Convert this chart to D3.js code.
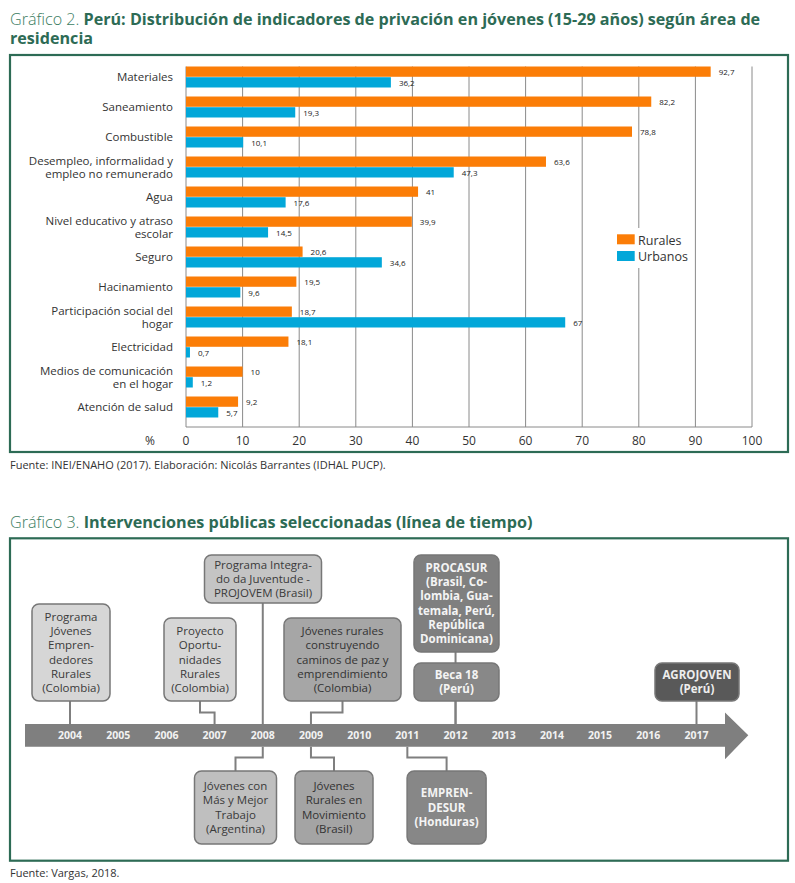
<!DOCTYPE html>
<html><head><meta charset="utf-8">
<script src="https://cdn.jsdelivr.net/npm/d3@7"></script>
<style>body{margin:0;background:#fff}svg{display:block;font-family:"Open Sans",sans-serif}</style>
</head><body><svg id="c" width="795" height="883"></svg>
<script>
// ---------- DATA ----------
const categories = ["Materiales","Saneamiento","Combustible","Desempleo, informalidad y\nempleo no remunerado","Agua","Nivel educativo y atraso\nescolar","Seguro","Hacinamiento","Participación social del\nhogar","Electricidad","Medios de comunicación\nen el hogar","Atención de salud"];
const series = ["Rurales","Urbanos"];
const rurales = [92.7,82.2,78.8,63.6,41,39.9,20.6,19.5,18.7,18.1,10,9.2];
const urbanos = [36.2,19.3,10.1,47.3,17.6,14.5,34.6,9.6,67,0.7,1.2,5.7];
const xTicks = [0,10,20,30,40,50,60,70,80,90,100];

const years = [2004,2005,2006,2007,2008,2009,2010,2011,2012,2013,2014,2015,2016,2017];
const events = [
  {year:2004, side:"top", lines:["Programa","Jóvenes","Empren-","dedores","Rurales","(Colombia)"]},
  {year:2007, side:"top", lines:["Proyecto","Oportu-","nidades","Rurales","(Colombia)"]},
  {year:2008, side:"top", lines:["Programa Integra-","do da Juventude -","PROJOVEM (Brasil)"]},
  {year:2009, side:"top", lines:["Jóvenes rurales","construyendo","caminos de paz y","emprendimiento","(Colombia)"]},
  {year:2012, side:"top", lines:["PROCASUR","(Brasil, Co-","lombia, Gua-","temala, Perú,","República","Dominicana)"]},
  {year:2012, side:"top", lines:["Beca 18","(Perú)"]},
  {year:2017, side:"top", lines:["AGROJOVEN","(Perú)"]},
  {year:2008, side:"bottom", lines:["Jóvenes con","Más y Mejor","Trabajo","(Argentina)"]},
  {year:2009, side:"bottom", lines:["Jóvenes","Rurales en","Movimiento","(Brasil)"]},
  {year:2011, side:"bottom", lines:["EMPREN-","DESUR","(Honduras)"]}
];

// ---------- LAYOUT / STYLE (not data) ----------
const boxLayout = [
  {cx:71,   w:78,  y0:604, h:97, fill:"#d6d6d6", tc:"#3a3a3a", bold:false},
  {cx:200,  w:72,  y0:618, h:83, fill:"#d6d6d6", tc:"#3a3a3a", bold:false},
  {cx:263,  w:117, y0:555, h:48, fill:"#c4c4c4", tc:"#3a3a3a", bold:false},
  {cx:342.5,w:117, y0:618, h:83, fill:"#a6a6a6", tc:"#333",    bold:false},
  {cx:456.5,w:85,  y0:555, h:97, fill:"#7f7f7f", tc:"#f4f4f4", bold:true},
  {cx:456.5,w:85,  y0:663, h:38, fill:"#888888", tc:"#f4f4f4", bold:true},
  {cx:697,  w:84,  y0:663, h:38, fill:"#595959", tc:"#eeeeee", bold:true},
  {cx:235.5,w:82,  y0:771, h:73, fill:"#bfbfbf", tc:"#3a3a3a", bold:false},
  {cx:334,  w:78,  y0:771, h:73, fill:"#a4a4a4", tc:"#333",    bold:false},
  {cx:446.6,w:79,  y0:771, h:73, fill:"#878787", tc:"#f4f4f4", bold:true}
];

const svg = d3.select("#c");
const green = "#2d6b55", txt = "#333";
const orange = "#fb7d07", blue = "#02a7d9", grid = "#8a8a8a";
const loc = d3.formatLocale({decimal:",", thousands:".", grouping:[3], currency:["",""]});
const fmt = loc.format(".1~f");

function fit(sel, maxW){
  const n = sel.node(); const w = n.getComputedTextLength();
  if (w > maxW){ const fs = parseFloat(sel.attr("font-size")); sel.attr("font-size", fs*maxW/w); }
}

// ---------- CHART 1 ----------
const t1 = svg.append("text").attr("x",10).attr("y",25).attr("font-size",17).attr("fill",green);
t1.append("tspan").attr("font-weight",300).attr("fill","#3c7d62").text("Gráfico 2. ");
t1.append("tspan").attr("font-weight",700).text("Perú: Distribución de indicadores de privación en jóvenes (15-29 años) según área de");
fit(t1, 751);
svg.append("text").attr("x",10).attr("y",44).attr("font-size",t1.attr("font-size")).attr("font-weight",700).attr("fill",green).text("residencia");

svg.append("rect").attr("x",10).attr("y",55).attr("width",778).attr("height",397)
  .attr("fill","none").attr("stroke",green).attr("stroke-width",2.2);

const x = d3.scaleLinear().domain([0,100]).range([186,752]);
const y = d3.scaleBand().domain(categories).range([62,422]).paddingInner(0.3).paddingOuter(0.15);
const ys = d3.scaleBand().domain(series).range([0,y.bandwidth()]).paddingInner(0.04);
const color = d3.scaleOrdinal().domain(series).range([orange, blue]);
const plotTop = 66.5, plotBot = 427;

const g1 = svg.append("g");
g1.selectAll("line.grid").data(xTicks).join("line").attr("class","grid")
  .attr("x1",d=>x(d)).attr("x2",d=>x(d)).attr("y1",plotTop).attr("y2",plotBot)
  .attr("stroke",grid).attr("stroke-width",1);
g1.append("line").attr("x1",x(0)).attr("x2",x(100)).attr("y1",plotBot).attr("y2",plotBot).attr("stroke",grid);

g1.selectAll("text.tick").data(xTicks).join("text").attr("class","tick")
  .attr("x",d=>x(d)).attr("y",445).attr("text-anchor","middle").attr("font-size",12).attr("fill",txt)
  .text(d=>d);
g1.append("text").attr("x",150).attr("y",445).attr("text-anchor","middle").attr("font-size",12).attr("fill",txt).text("%");

const rows = categories.map((c,i)=>({c, vals:[{s:"Rurales",v:rurales[i]},{s:"Urbanos",v:urbanos[i]}]}));
const rowG = g1.selectAll("g.row").data(rows).join("g").attr("class","row")
  .attr("transform",d=>`translate(0,${y(d.c)})`);
rowG.selectAll("rect").data(d=>d.vals).join("rect")
  .attr("x",x(0)).attr("y",d=>ys(d.s)).attr("width",d=>x(d.v)-x(0)).attr("height",ys.bandwidth())
  .attr("fill",d=>color(d.s));
rowG.selectAll("text.val").data(d=>d.vals).join("text").attr("class","val")
  .attr("x",d=>x(d.v)+8).attr("y",d=>ys(d.s)+ys.bandwidth()/2+3.5)
  .attr("font-size",8).attr("fill","#222").text(d=>fmt(d.v));

// category labels
rowG.each(function(d){
  const lines = d.c.split("\n");
  const cy = y.bandwidth()/2;
  const lh = 13;
  const t = d3.select(this).append("text").attr("text-anchor","end").attr("font-size",11.5).attr("fill",txt);
  lines.forEach((l,k)=>{
    t.append("tspan").attr("x",173).attr("y",cy + 4.2 + (k-(lines.length-1)/2)*lh).text(l);
  });
});

// legend
const lg = g1.append("g");
lg.append("rect").attr("x",612).attr("y",228).attr("width",82).attr("height",40).attr("fill","#fff");
series.forEach((s,i)=>{
  lg.append("rect").attr("x",617).attr("y",234.3+i*16.7).attr("width",17.7).attr("height",10).attr("fill",color(s));
  lg.append("text").attr("x",638).attr("y",244.5+i*16.2).attr("font-size",12.5).attr("fill",txt).text(s);
});

const s1 = svg.append("text").attr("x",10).attr("y",468.5).attr("font-size",11).attr("fill",txt)
  .text("Fuente: INEI/ENAHO (2017). Elaboración: Nicolás Barrantes (IDHAL PUCP).");
fit(s1, 408);

// ---------- CHART 2 ----------
const t2 = svg.append("text").attr("x",10).attr("y",528.3).attr("font-size",17).attr("fill",green);
t2.append("tspan").attr("font-weight",300).attr("fill","#3c7d62").text("Gráfico 3. ");
t2.append("tspan").attr("font-weight",700).text("Intervenciones públicas seleccionadas (línea de tiempo)");
fit(t2, 523);

svg.append("rect").attr("x",10).attr("y",538.3).attr("width",778).attr("height",322.4)
  .attr("fill","none").attr("stroke",green).attr("stroke-width",2.2);

const xy = d3.scaleLinear().domain([2004,2017]).range([70,696.5]);
const barTop = 724, barBot = 746.7, barMid = (barTop+barBot)/2;
const g2 = svg.append("g");
const ax0 = 25, ax1 = 725, tip = 748.3;
g2.append("path").attr("fill","#7f7f7f")
  .attr("d",`M${ax0},${barTop}H${ax1}V${barMid-22.8}L${tip},${barMid}L${ax1},${barMid+23.8}V${barBot}H${ax0}Z`);
g2.selectAll("text.yr").data(years).join("text").attr("class","yr")
  .attr("x",d=>xy(d)).attr("y",barMid+3.8).attr("text-anchor","middle")
  .attr("font-size",10.5).attr("font-weight",700).attr("fill","#f2f2f2").text(d=>d);

const conn = "#7f7f7f";
const items = events.map((e,i)=>Object.assign({}, e, boxLayout[i]));
// connectors
items.forEach(d=>{
  const xa = xy(d.year);
  let path;
  if (d.side==="top"){
    const yb = d.y0 + d.h;
    if (Math.abs(d.cx - xa) < 2) path = `M${xa},${barTop}V${yb}`;
    else path = `M${xa},${barTop}V712.5H${d.cx}V${yb}`;
  } else {
    if (Math.abs(d.cx - xa) < 2) path = `M${xa},${barBot}V${d.y0}`;
    else path = `M${xa},${barBot}V757.5H${d.cx}V${d.y0}`;
  }
  g2.append("path").attr("d",path).attr("fill","none").attr("stroke",conn).attr("stroke-width",2);
});
// boxes
items.forEach(d=>{
  const bg = g2.append("g");
  bg.append("rect").attr("x",d.cx-d.w/2).attr("y",d.y0).attr("width",d.w).attr("height",d.h)
    .attr("rx",7).attr("ry",7).attr("fill",d.fill).attr("stroke","#777").attr("stroke-width",1.5);
  const lh = 14.3;
  const cy = d.y0 + d.h/2;
  d.lines.forEach((l,k)=>{
    const t = bg.append("text").attr("x",d.cx).attr("y",cy + 4 + (k-(d.lines.length-1)/2)*lh)
      .attr("text-anchor","middle").attr("font-size",11.5).attr("font-weight",d.bold?700:400)
      .attr("fill",d.tc).text(l);
    fit(t, d.w-8);
  });
});

const s2 = svg.append("text").attr("x",10).attr("y",877).attr("font-size",11).attr("fill",txt).text("Fuente: Vargas, 2018.");
</script></body></html>
